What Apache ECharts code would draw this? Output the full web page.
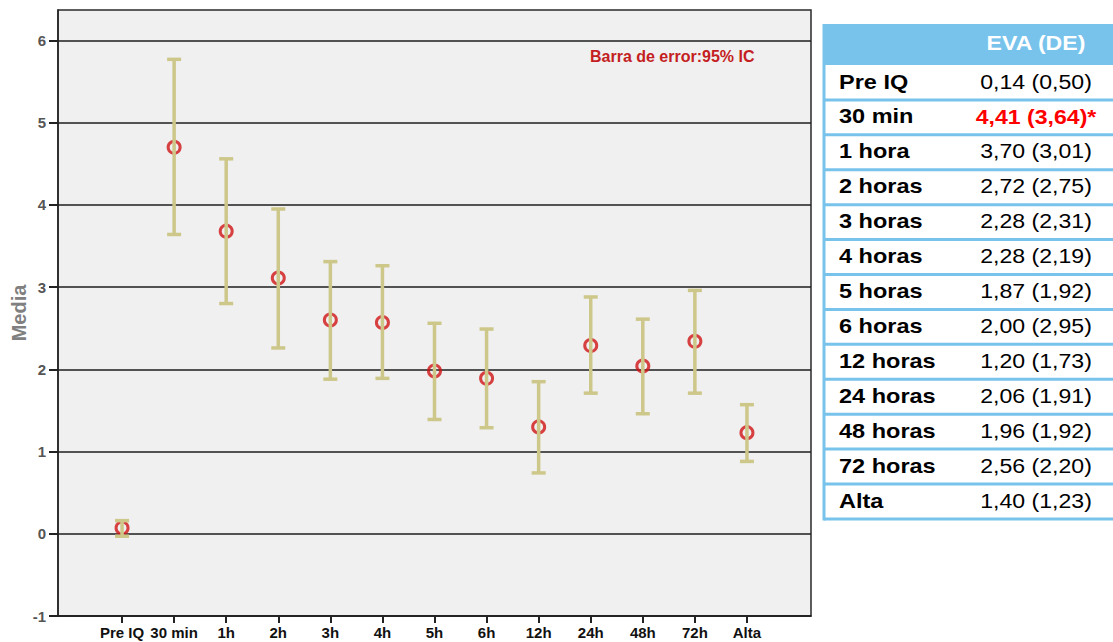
<!DOCTYPE html>
<html><head><meta charset="utf-8">
<script src="https://cdn.jsdelivr.net/npm/echarts@6/dist/echarts.min.js"></script>
<style>html,body{margin:0;padding:0;background:#fff}#c{width:1113px;height:642px}</style>
</head><body><div id="c"></div>
<script>
// ---- data ----
const categories = ['Pre IQ','30 min','1h','2h','3h','4h','5h','6h','12h','24h','48h','72h','Alta'];
const means  = [0.07, 4.70, 3.68, 3.11, 2.60, 2.57, 1.98, 1.89, 1.30, 2.29, 2.04, 2.34, 1.23];
const ciLow  = [-0.03, 3.64, 2.80, 2.26, 1.88, 1.89, 1.39, 1.29, 0.74, 1.71, 1.46, 1.71, 0.88];
const ciHigh = [0.16, 5.77, 4.56, 3.95, 3.31, 3.26, 2.56, 2.49, 1.85, 2.88, 2.61, 2.96, 1.57];
const yTicks = [-1, 0, 1, 2, 3, 4, 5, 6];
const yAxisName = 'Media';
const annotation = 'Barra de error:95% IC';
const tableHeader = 'EVA (DE)';
const tableLabels = ['Pre IQ','30 min','1 hora','2 horas','3 horas','4 horas','5 horas','6 horas','12 horas','24 horas','48 horas','72 horas','Alta'];
const tableValues = ['0,14 (0,50)','4,41 (3,64)*','3,70 (3,01)','2,72 (2,75)','2,28 (2,31)','2,28 (2,19)','1,87 (1,92)','2,00 (2,95)','1,20 (1,73)','2,06 (1,91)','1,96 (1,92)','2,56 (2,20)','1,40 (1,23)'];
const highlightRow = 1;

// ---- styles ----
const FONT = '"Liberation Sans", Arial, sans-serif';
const barColor = '#cdc78a';
const markerColor = '#d01414';
const tableBlue = '#78c3ec';

const chart = echarts.init(document.getElementById('c'), null, {renderer: 'svg'});

// table graphic
const tX = 824, tTop = 24, headerH = 41, rowH = 34.92, tW = 300;
const labelX = 839, valueX = 1036;
const g = [];
g.push({type:'rect', shape:{x:tX, y:tTop, width:tW, height:headerH}, style:{fill:tableBlue}});
g.push({type:'rect', shape:{x:tX, y:tTop+headerH, width:tW, height:rowH*tableLabels.length}, style:{fill:'#fff'}});
for (let i = 1; i <= tableLabels.length; i++) {
  const y = tTop + headerH + i*rowH;
  g.push({type:'line', shape:{x1:tX, y1:y, x2:tX+tW, y2:y}, style:{stroke:tableBlue, lineWidth:3}});
}
g.push({type:'line', shape:{x1:tX, y1:tTop, x2:tX, y2:tTop+headerH+rowH*tableLabels.length+1.5}, style:{stroke:tableBlue, lineWidth:3}});
g.push({type:'text', x:valueX, y:tTop+headerH/2-2, scaleX:1.1,
  style:{text:tableHeader, font:'bold 21px '+FONT, fill:'#fff', align:'center', verticalAlign:'middle'}});
tableLabels.forEach((lab, i) => {
  const cy = tTop + headerH + i*rowH + rowH/2 - 1;
  g.push({type:'text', x:labelX, y:cy, scaleX:1.12,
    style:{text:lab, font:'bold 21px '+FONT, fill:'#000', align:'left', verticalAlign:'middle'}});
  const hl = i === highlightRow;
  g.push({type:'text', x:valueX, y:cy, scaleX:1.1,
    style:{text:tableValues[i], font:(hl?'bold ':'')+'21px '+FONT, fill: hl ? '#ff0000' : '#000', align:'center', verticalAlign:'middle'}});
});
g.push({type:'text', x:590, y:56, z:10,
  style:{text:annotation, font:'bold 16px '+FONT, fill:'#c41e22', align:'left', verticalAlign:'middle'}});

const idx = categories.map((c, i) => i);

chart.setOption({
  animation: false,
  backgroundColor: '#fff',
  grid: {left:58, right:302, top:10, bottom:26, outerBoundsMode:'none', containLabel:false,
    show:true, backgroundColor:'#f0f0f0', borderColor:'#2a2a2a', borderWidth:1.5},
  xAxis: {
    type:'value', min:-1.23, max:13.23,
    splitLine:{show:false},
    axisLine:{show:true, onZero:false, lineStyle:{color:'#222', width:1.5}},
    axisTick:{show:true, customValues: idx, length:7, lineStyle:{color:'#222', width:2}},
    axisLabel:{customValues: idx, formatter: v => categories[Math.round(v)] || '', margin:9,
      fontSize:15, fontWeight:'bold', fontFamily:FONT, color:'#111'}
  },
  yAxis: {
    type:'value', min:-1, max:6.37, interval:1,
    name: yAxisName, nameLocation:'middle', nameGap:29, nameMoveOverlap:false,
    nameTextStyle:{fontSize:20, fontWeight:'bold', fontFamily:FONT, color:'#808080'},
    splitLine:{show:true, lineStyle:{color:'#1e1e1e', width:1.5}},
    axisLine:{show:true, onZero:false, lineStyle:{color:'#222', width:1.5}},
    axisTick:{show:true, customValues: yTicks, length:9, lineStyle:{color:'#222', width:2}},
    axisLabel:{customValues: yTicks, formatter: v => String(v), margin:12,
      fontSize:15, fontWeight:'bold', fontFamily:FONT, color:'#555'}
  },
  series: [
    {
      type:'scatter', z:2,
      data: means.map((m, i) => [i, m]),
      symbol:'circle', symbolSize:12,
      itemStyle:{color:'rgba(0,0,0,0)', borderColor:markerColor, borderWidth:3},
      silent:true
    },
    {
      type:'custom', z:3,
      data: idx.map(i => [i, ciLow[i], ciHigh[i]]),
      renderItem: (params, api) => {
        const x = api.value(0);
        const lo = api.coord([x, api.value(1)]);
        const hi = api.coord([x, api.value(2)]);
        const hw = 7;
        const st = {stroke:barColor, lineWidth:3.5, fill:null};
        return {type:'group', children:[
          {type:'line', shape:{x1:lo[0], y1:lo[1], x2:hi[0], y2:hi[1]}, style:st},
          {type:'line', shape:{x1:hi[0]-hw, y1:hi[1], x2:hi[0]+hw, y2:hi[1]}, style:st},
          {type:'line', shape:{x1:lo[0]-hw, y1:lo[1], x2:lo[0]+hw, y2:lo[1]}, style:st}
        ]};
      },
      silent:true
    }
  ],
  graphic: g
});
</script>
</body></html>
